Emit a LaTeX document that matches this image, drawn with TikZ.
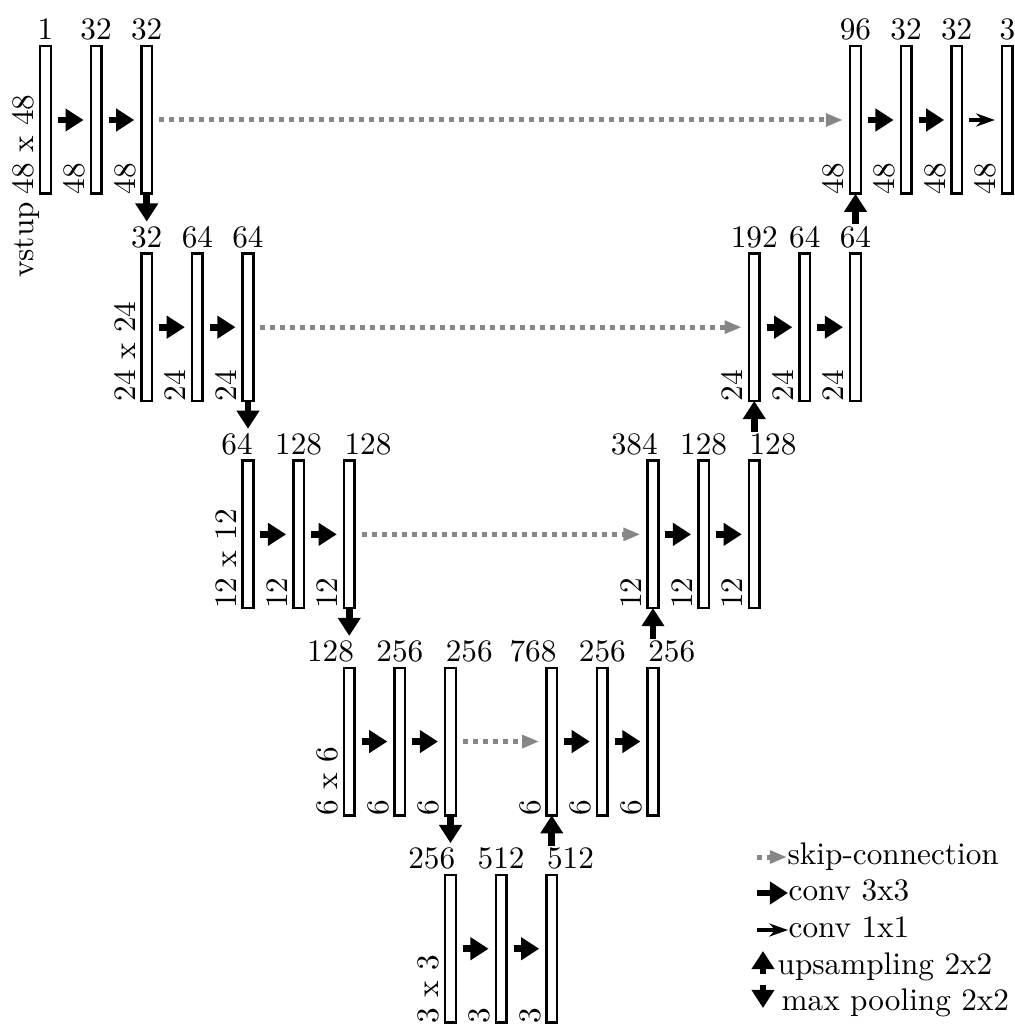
\documentclass[tikz,border=0pt]{standalone}
\usepackage{tikz}
\usetikzlibrary{arrows.meta, positioning}

\begin{document}
\begin{tikzpicture}[
    x=0.32pt, y=0.32pt,
    node distance=19.1pt and 12.8pt,
    bar/.style={
        rectangle,
        draw=black,
        thick,
        fill=white,
        minimum width=3.4pt,
        minimum height=47.2pt,
        inner sep=0pt,
        outer sep=0pt
    },
    chn/.style={inner sep=0pt, anchor=base},
    dim/.style={inner sep=0pt, rotate=90, anchor=base west},
    legend/.style={inner sep=0pt, anchor=base west},
    gap/.style={shorten <=2.3pt, shorten >=2.3pt},
    conv/.style={-{Triangle[length=5.8pt, width=7pt]}, line width=2.2pt},
    convone/.style={-{Stealth[length=6pt, width=4.2pt]}, line width=1pt},
    pool/.style={conv, shorten >=10.2pt},
    upsm/.style={conv, shorten <=9.3pt},
    skip/.style={-{Triangle[length=5.5pt, width=4pt]}, line width=1.6pt, dash pattern=on 1.6pt off 1.6pt, draw=black!47}
]
    \useasboundingbox (0,0) rectangle (1015,-1026);

    % Encoder (left branch)
    \node[bar] (e1a) at (45.5,-120) {};
    \node[bar, right=of e1a] (e1b) {};
    \node[bar, right=of e1b] (e1c) {};
    \node[bar, below=of e1c] (e2a) {};
    \node[bar, right=of e2a] (e2b) {};
    \node[bar, right=of e2b] (e2c) {};
    \node[bar, below=of e2c] (e3a) {};
    \node[bar, right=of e3a] (e3b) {};
    \node[bar, right=of e3b] (e3c) {};
    \node[bar, below=of e3c] (e4a) {};
    \node[bar, right=of e4a] (e4b) {};
    \node[bar, right=of e4b] (e4c) {};

    % Bottleneck
    \node[bar, below=of e4c] (bta) {};
    \node[bar, right=of bta] (btb) {};
    \node[bar, right=of btb] (btc) {};

    % Decoder (right branch)
    \node[bar, above=of btc] (d4a) {};
    \node[bar, right=of d4a] (d4b) {};
    \node[bar, right=of d4b] (d4c) {};
    \node[bar, above=of d4c] (d3a) {};
    \node[bar, right=of d3a] (d3b) {};
    \node[bar, right=of d3b] (d3c) {};
    \node[bar, above=of d3c] (d2a) {};
    \node[bar, right=of d2a] (d2b) {};
    \node[bar, right=of d2b] (d2c) {};
    \node[bar, above=of d2c] (d1a) {};
    \node[bar, right=of d1a] (d1b) {};
    \node[bar, right=of d1b] (d1c) {};
    \node[bar, right=of d1c] (d1d) {};

    % Channel counts
    \node[chn] (ch-e1a) at ([yshift=2pt]e1a.north) {1};
    \node[chn] (ch-e1b) at ([yshift=2pt]e1b.north) {32};
    \node[chn] (ch-e1c) at ([yshift=2pt]e1c.north) {32};
    \node[chn] (ch-e2a) at ([yshift=2pt]e2a.north) {32};
    \node[chn] (ch-e2b) at ([yshift=2pt]e2b.north) {64};
    \node[chn] (ch-e2c) at ([yshift=2pt]e2c.north) {64};
    \node[chn, anchor=base east] (ch-e3a) at ([yshift=2pt]e3a.north east) {64};
    \node[chn] (ch-e3b) at ([yshift=2pt]e3b.north) {128};
    \node[chn, anchor=base west] (ch-e3c) at ([yshift=2pt]e3c.north west) {128};
    \node[chn, anchor=base east] (ch-e4a) at ([yshift=2pt]e4a.north east) {128};
    \node[chn] (ch-e4b) at ([yshift=2pt]e4b.north) {256};
    \node[chn, anchor=base west] (ch-e4c) at ([yshift=2pt]e4c.north west) {256};
    \node[chn, anchor=base east] (ch-bta) at ([yshift=2pt]bta.north east) {256};
    \node[chn] (ch-btb) at ([yshift=2pt]btb.north) {512};
    \node[chn, anchor=base west] (ch-btc) at ([yshift=2pt]btc.north west) {512};
    \node[chn, anchor=base east] (ch-d4a) at ([yshift=2pt]d4a.north east) {768};
    \node[chn] (ch-d4b) at ([yshift=2pt]d4b.north) {256};
    \node[chn, anchor=base west] (ch-d4c) at ([yshift=2pt]d4c.north west) {256};
    \node[chn, anchor=base east] (ch-d3a) at ([yshift=2pt]d3a.north east) {384};
    \node[chn] (ch-d3b) at ([yshift=2pt]d3b.north) {128};
    \node[chn, anchor=base west] (ch-d3c) at ([yshift=2pt]d3c.north west) {128};
    \node[chn] (ch-d2a) at ([yshift=2pt]d2a.north) {192};
    \node[chn] (ch-d2b) at ([yshift=2pt]d2b.north) {64};
    \node[chn] (ch-d2c) at ([yshift=2pt]d2c.north) {64};
    \node[chn] (ch-d1a) at ([yshift=2pt]d1a.north) {96};
    \node[chn] (ch-d1b) at ([yshift=2pt]d1b.north) {32};
    \node[chn] (ch-d1c) at ([yshift=2pt]d1c.north) {32};
    \node[chn] (ch-d1d) at ([yshift=2pt]d1d.north) {3};

    % Spatial sizes
    \node[dim] (sz-e1a) at ([xshift=-2pt, yshift=-0.4pt]e1a.south west) {\llap{vstup\hspace{2.5pt}}48 x 48};
    \node[dim] (sz-e1b) at ([xshift=-2pt, yshift=-0.4pt]e1b.south west) {48};
    \node[dim] (sz-e1c) at ([xshift=-2pt, yshift=-0.4pt]e1c.south west) {48};
    \node[dim] (sz-e2a) at ([xshift=-2pt, yshift=-0.4pt]e2a.south west) {24 x 24};
    \node[dim] (sz-e2b) at ([xshift=-2pt, yshift=-0.4pt]e2b.south west) {24};
    \node[dim] (sz-e2c) at ([xshift=-2pt, yshift=-0.4pt]e2c.south west) {24};
    \node[dim] (sz-e3a) at ([xshift=-2pt, yshift=-0.4pt]e3a.south west) {12 x 12};
    \node[dim] (sz-e3b) at ([xshift=-2pt, yshift=-0.4pt]e3b.south west) {12};
    \node[dim] (sz-e3c) at ([xshift=-2pt, yshift=-0.4pt]e3c.south west) {12};
    \node[dim] (sz-e4a) at ([xshift=-2pt, yshift=-0.4pt]e4a.south west) {6 x 6};
    \node[dim] (sz-e4b) at ([xshift=-2pt, yshift=-0.4pt]e4b.south west) {6};
    \node[dim] (sz-e4c) at ([xshift=-2pt, yshift=-0.4pt]e4c.south west) {6};
    \node[dim] (sz-bta) at ([xshift=-2pt, yshift=-0.4pt]bta.south west) {3 x 3};
    \node[dim] (sz-btb) at ([xshift=-2pt, yshift=-0.4pt]btb.south west) {3};
    \node[dim] (sz-btc) at ([xshift=-2pt, yshift=-0.4pt]btc.south west) {3};
    \node[dim] (sz-d4a) at ([xshift=-2pt, yshift=-0.4pt]d4a.south west) {6};
    \node[dim] (sz-d4b) at ([xshift=-2pt, yshift=-0.4pt]d4b.south west) {6};
    \node[dim] (sz-d4c) at ([xshift=-2pt, yshift=-0.4pt]d4c.south west) {6};
    \node[dim] (sz-d3a) at ([xshift=-2pt, yshift=-0.4pt]d3a.south west) {12};
    \node[dim] (sz-d3b) at ([xshift=-2pt, yshift=-0.4pt]d3b.south west) {12};
    \node[dim] (sz-d3c) at ([xshift=-2pt, yshift=-0.4pt]d3c.south west) {12};
    \node[dim] (sz-d2a) at ([xshift=-2pt, yshift=-0.4pt]d2a.south west) {24};
    \node[dim] (sz-d2b) at ([xshift=-2pt, yshift=-0.4pt]d2b.south west) {24};
    \node[dim] (sz-d2c) at ([xshift=-2pt, yshift=-0.4pt]d2c.south west) {24};
    \node[dim] (sz-d1a) at ([xshift=-2pt, yshift=-0.4pt]d1a.south west) {48};
    \node[dim] (sz-d1b) at ([xshift=-2pt, yshift=-0.4pt]d1b.south west) {48};
    \node[dim] (sz-d1c) at ([xshift=-2pt, yshift=-0.4pt]d1c.south west) {48};
    \node[dim] (sz-d1d) at ([xshift=-2pt, yshift=-0.4pt]d1d.south west) {48};

    % Convolutions
    \draw[conv, gap] (e1a) -- (e1b);
    \draw[conv, gap] (e1b) -- (e1c);
    \draw[conv, gap] (e2a) -- (e2b);
    \draw[conv, gap] (e2b) -- (e2c);
    \draw[conv, gap] (e3a) -- (e3b);
    \draw[conv, gap] (e3b) -- (e3c);
    \draw[conv, gap] (e4a) -- (e4b);
    \draw[conv, gap] (e4b) -- (e4c);
    \draw[conv, gap] (bta) -- (btb);
    \draw[conv, gap] (btb) -- (btc);
    \draw[conv, gap] (d4a) -- (d4b);
    \draw[conv, gap] (d4b) -- (d4c);
    \draw[conv, gap] (d3a) -- (d3b);
    \draw[conv, gap] (d3b) -- (d3c);
    \draw[conv, gap] (d2a) -- (d2b);
    \draw[conv, gap] (d2b) -- (d2c);
    \draw[conv, gap] (d1a) -- (d1b);
    \draw[conv, gap] (d1b) -- (d1c);
    \draw[convone, gap] (d1c) -- (d1d);

    % Max pooling and upsampling
    \draw[pool] (e1c) -- (e2a);
    \draw[pool] (e2c) -- (e3a);
    \draw[pool] (e3c) -- (e4a);
    \draw[pool] (e4c) -- (bta);
    \draw[upsm] (btc) -- (d4a);
    \draw[upsm] (d4c) -- (d3a);
    \draw[upsm] (d3c) -- (d2a);
    \draw[upsm] (d2c) -- (d1a);

    % Skip-connections
    \draw[skip, gap] (e1c) -- (d1a);
    \draw[skip, gap] (e2c) -- (d2a);
    \draw[skip, gap] (e3c) -- (d3a);
    \draw[skip, gap] (e4c) -- (d4a);

    % Legend
    \node[legend] (t-skip) at (787,-864) {skip-connection};
    \node[legend] (t-conv) at (788,-900) {conv 3x3};
    \node[legend] (t-one) at (788,-937) {conv 1x1};
    \node[legend] (t-up) at (777,-974) {upsampling 2x2};
    \node[legend] (t-pool) at (781,-1010) {max pooling 2x2};
    \coordinate (k-skip) at (757,-857);
    \coordinate (k-conv) at (757,-893);
    \coordinate (k-one) at (757,-930);
    \coordinate (k-up) at (763,-974);
    \coordinate (k-up2) at (763,-951);
    \coordinate (k-pool) at (763,-985);
    \coordinate (k-pool2) at (763,-1008);
    \draw[skip] (k-skip) -- (k-skip -| t-skip.west);
    \draw[conv] (k-conv) -- (k-conv -| t-conv.west);
    \draw[convone] (k-one) -- (k-one -| t-one.west);
    \draw[conv] (k-up) -- (k-up2);
    \draw[conv] (k-pool) -- (k-pool2);
\end{tikzpicture}
\end{document}
